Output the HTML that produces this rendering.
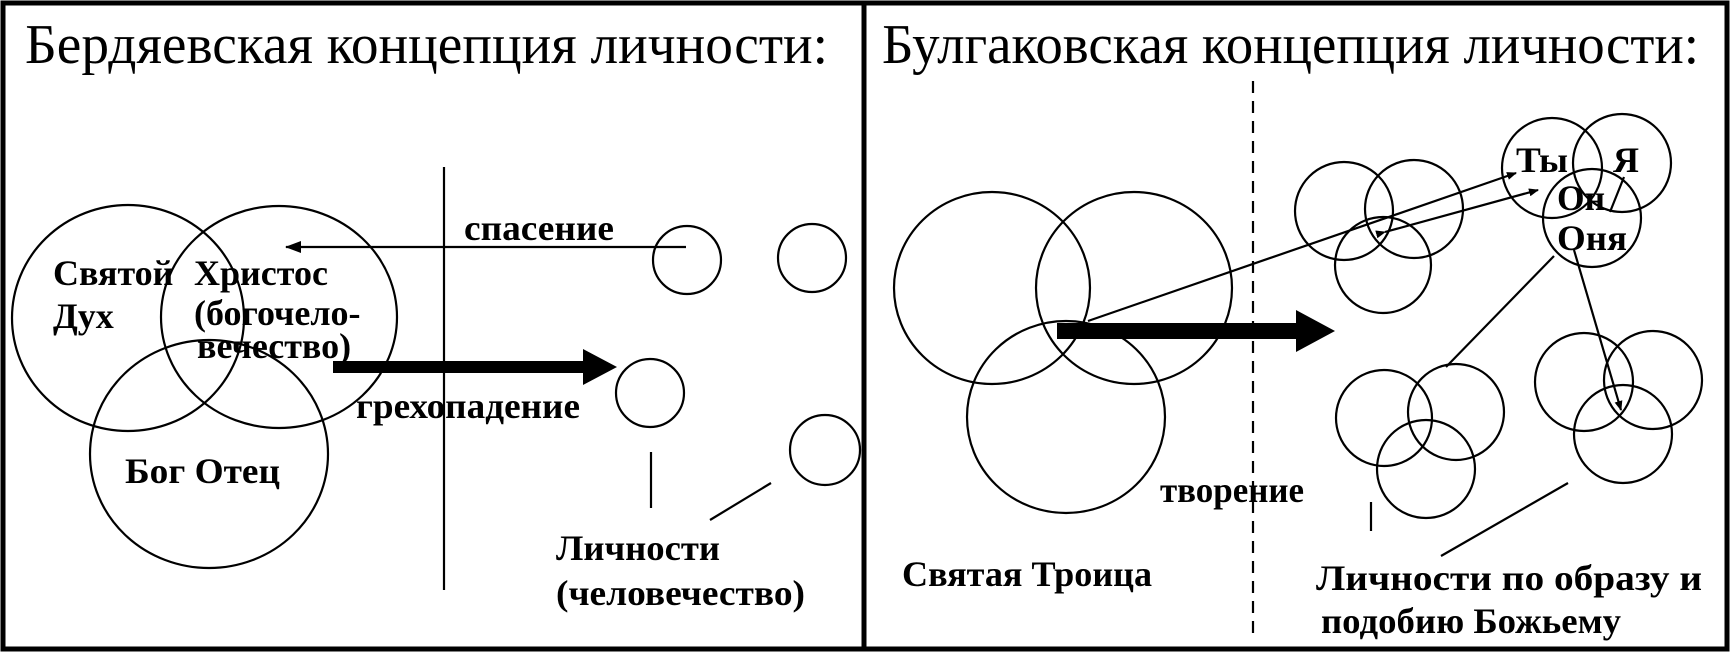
<!DOCTYPE html>
<html><head><meta charset="utf-8"><style>
html,body{margin:0;padding:0;background:#fff;}
svg{display:block;}
text{font-family:"Liberation Serif",serif;fill:#000;}
.b{font-weight:bold;font-size:36px;}
.t{font-size:56px;}
</style></head><body>
<svg width="1731" height="663" viewBox="0 0 1731 663" xmlns="http://www.w3.org/2000/svg">
<defs>
<marker id="ah" markerWidth="10" markerHeight="8" refX="9" refY="4" orient="auto" markerUnits="userSpaceOnUse"><path d="M0,0 L10,4 L0,8 z" fill="#000"/></marker>
<marker id="ah2" markerWidth="16" markerHeight="12" refX="15" refY="6" orient="auto" markerUnits="userSpaceOnUse"><path d="M0,0 L16,6 L0,12 z" fill="#000"/></marker>
</defs>
<g fill="none" stroke="#000" stroke-width="5">
<rect x="3" y="3" width="1724" height="646"/>
<line x1="864" y1="3" x2="864" y2="649"/>
</g>
<text class="t" x="25" y="63" textLength="803" lengthAdjust="spacingAndGlyphs">Бердяевская концепция личности:</text>
<text class="t" x="882" y="63" textLength="817" lengthAdjust="spacingAndGlyphs">Булгаковская концепция личности:</text>
<g fill="none" stroke="#000" stroke-width="2.2">
<ellipse cx="128" cy="318" rx="116" ry="113"/>
<ellipse cx="279" cy="317" rx="118" ry="111"/>
<ellipse cx="209" cy="454" rx="119" ry="114"/>
<line x1="444" y1="167" x2="444" y2="590"/>
<line x1="686" y1="247" x2="286" y2="247" marker-end="url(#ah2)"/>
<circle cx="687" cy="260" r="34"/>
<circle cx="812" cy="258" r="34"/>
<circle cx="650" cy="393" r="34"/>
<circle cx="825" cy="450" r="35"/>
<line x1="651" y1="452" x2="651" y2="508"/>
<line x1="710" y1="520" x2="771" y2="483"/>
</g>
<path d="M333,361 L583,361 L583,349 L617,367 L583,385 L583,373 L333,373 z" fill="#000"/>
<text class="b" x="464" y="240" textLength="150" lengthAdjust="spacingAndGlyphs">спасение</text>
<text class="b" x="356" y="418" textLength="224" lengthAdjust="spacingAndGlyphs">грехопадение</text>
<text class="b" x="53" y="285">Святой</text>
<text class="b" x="53" y="328">Дух</text>
<text class="b" x="194" y="285">Христос</text>
<text class="b" x="194" y="325">(богочело-</text>
<text class="b" x="197" y="358">вечество)</text>
<text class="b" x="125" y="483" textLength="155" lengthAdjust="spacingAndGlyphs">Бог Отец</text>
<text class="b" x="556" y="560" textLength="164" lengthAdjust="spacingAndGlyphs">Личности</text>
<text class="b" x="556" y="605" textLength="249" lengthAdjust="spacingAndGlyphs">(человечество)</text>

<g fill="none" stroke="#000" stroke-width="2.2">
<line x1="1253" y1="81" x2="1253" y2="637" stroke-dasharray="12,8"/>
<ellipse cx="992" cy="288" rx="98" ry="96"/>
<ellipse cx="1134" cy="288" rx="98" ry="96"/>
<ellipse cx="1066" cy="417" rx="99" ry="96"/>
<circle cx="1344" cy="211" r="49"/>
<circle cx="1414" cy="209" r="49"/>
<circle cx="1383" cy="265" r="48"/>
<circle cx="1552" cy="168" r="50"/>
<circle cx="1622" cy="163" r="49"/>
<circle cx="1592" cy="218" r="49"/>
<circle cx="1384" cy="418" r="48"/>
<circle cx="1456" cy="412" r="48"/>
<circle cx="1426" cy="469" r="49"/>
<circle cx="1584" cy="382" r="49"/>
<circle cx="1653" cy="380" r="49"/>
<circle cx="1623" cy="434" r="49"/>
<line x1="1088" y1="321" x2="1516" y2="173" marker-end="url(#ah)"/>
<line x1="1385" y1="232" x2="1538" y2="190" marker-end="url(#ah)" marker-start="url(#ah)"/>
<line x1="1554" y1="256" x2="1446" y2="367"/>
<line x1="1574" y1="250" x2="1621" y2="410" marker-end="url(#ah)"/>
<line x1="1624" y1="177" x2="1610" y2="212"/>
<line x1="1371" y1="502" x2="1371" y2="531"/>
<line x1="1441" y1="556" x2="1568" y2="483"/>
</g>
<path d="M1057,323 L1296,323 L1296,310 L1335,331 L1296,352 L1296,339 L1057,339 z" fill="#000"/>
<text class="b" x="1516" y="172" textLength="52" lengthAdjust="spacingAndGlyphs">Ты</text>
<text class="b" x="1613" y="172">Я</text>
<text class="b" x="1557" y="210" textLength="48" lengthAdjust="spacingAndGlyphs">Он</text>
<text class="b" x="1557" y="250" textLength="70" lengthAdjust="spacingAndGlyphs">Оня</text>
<text class="b" x="1160" y="502" textLength="144" lengthAdjust="spacingAndGlyphs">творение</text>
<text class="b" x="902" y="586" textLength="250" lengthAdjust="spacingAndGlyphs">Святая Троица</text>
<text class="b" x="1316" y="590" textLength="386" lengthAdjust="spacingAndGlyphs">Личности по образу и</text>
<text class="b" x="1321" y="633" textLength="300" lengthAdjust="spacingAndGlyphs">подобию Божьему</text>
</svg>
</body></html>
